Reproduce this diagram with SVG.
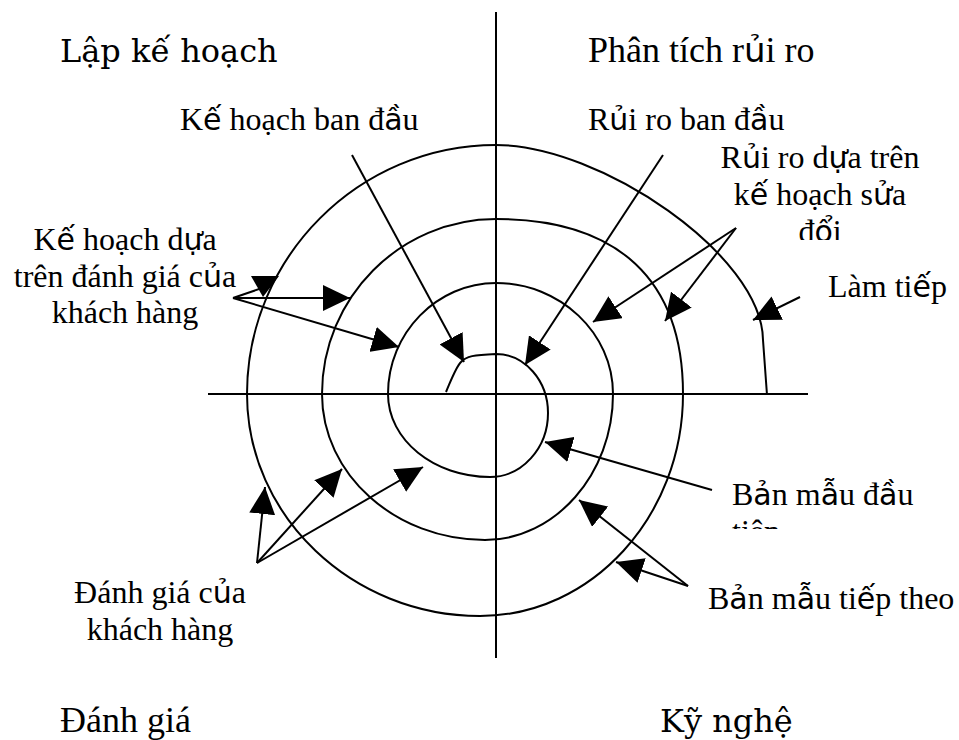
<svg xmlns="http://www.w3.org/2000/svg" width="959" height="740" viewBox="0 0 959 740">
<style>
.ln{stroke:#000;stroke-width:2;fill:none}
.ar{stroke:#000;stroke-width:2;fill:none;marker-end:url(#ah)}
.t{font-family:"Liberation Serif","Times New Roman",serif;font-size:32px;fill:#000}
.big{font-family:"Liberation Serif","Times New Roman",serif;font-size:36px;fill:#000}
.dj{font-family:"DejaVu Serif",serif;font-size:32px;fill:#000}
.s{font-family:"DejaVu Sans",sans-serif;font-size:30px}
.bs{font-family:"DejaVu Sans",sans-serif;font-size:34px}
.m{text-anchor:middle}
</style>
<defs>
<marker id="ah" markerUnits="userSpaceOnUse" viewBox="0 0 27 26" markerWidth="27" markerHeight="26" refX="27" refY="13" orient="auto">
<path d="M0,0 L27,13 L0,26 z" fill="#000"/>
</marker>
<clipPath id="c1"><rect x="700" y="140" width="259" height="100"/></clipPath>
<clipPath id="c2"><rect x="700" y="470" width="259" height="59"/></clipPath>
</defs>
<rect width="959" height="740" fill="#fff"/>
<g id="axes">
<line class="ln" x1="496" y1="12" x2="496" y2="658"/>
<line class="ln" x1="208" y1="394" x2="808" y2="394"/>
</g>
<g id="spiral">
<path class="ln" d="M446,392 C452,378 456,367 461,362 C466,356 474,355 496,354 C525,354 548,381 548,413 C548,448 522,477 490,477 C434,477 388,440 388,394 C388,333 437,283 496,283 C560,283 613,333 613,394 C613,474 555,540 485,540 C395,540 322,474 322,394 C322,298 400,219 496,219 C618,219 683,280 683,394 C683,516 592,616 480,616 C352,616 247,516 247,394 C247,257 359,145 496,145 C600,145 762,255 763,340 L767,395"/>
</g>
<g id="labels">
<text id="lap-ke-hoach" class="dj" x="60" y="62">Lập kế hoạch</text>
<text id="phan-tich" class="big" x="588" y="62">Phân tích r<tspan class="bs">ủ</tspan>i ro</text>
<text id="danh-gia" class="big" x="60" y="732">Đánh giá</text>
<text id="ky-nghe" class="dj" x="660" y="732">Kỹ nghệ</text>
</g>
<g id="connectors">
<line class="ar" x1="352" y1="155" x2="464" y2="362"/>
<line class="ar" x1="663" y1="155" x2="525" y2="365"/>
<line class="ln" x1="233" y1="298" x2="262" y2="288"/>
<polygon points="251,276 279,276 263,297" fill="#000"/>
<line class="ar" x1="233" y1="298" x2="350" y2="298"/>
<line class="ar" x1="233" y1="298" x2="399" y2="347"/>
<line class="ar" x1="736" y1="228" x2="593" y2="322"/>
<line class="ar" x1="736" y1="228" x2="665" y2="321"/>
<line class="ar" x1="800" y1="297" x2="753" y2="320"/>
<line class="ar" x1="712" y1="490" x2="545" y2="442"/>
<line class="ar" x1="688" y1="586" x2="579" y2="500"/>
<line class="ar" x1="688" y1="586" x2="616" y2="562"/>
<line class="ar" x1="257" y1="563" x2="265" y2="487"/>
<line class="ar" x1="257" y1="563" x2="342" y2="469"/>
<line class="ar" x1="257" y1="563" x2="423" y2="467"/>
</g>
<g id="n-ke-hoach-ban-dau"><text class="t" x="180" y="130">K<tspan class="s">ế</tspan> hoạch ban đ<tspan class="s">ầ</tspan>u</text></g>
<g id="n-rui-ro-ban-dau"><text class="t" x="588" y="130">R<tspan class="s">ủ</tspan>i ro ban đ<tspan class="s">ầ</tspan>u</text></g>
<g id="n-rui-ro-dua-tren" clip-path="url(#c1)">
<text class="t m" x="820" y="168">R<tspan class="s">ủ</tspan>i ro d<tspan class="s">ự</tspan>a trên</text>
<text class="t m" x="820" y="205">k<tspan class="s">ế</tspan> hoạch s<tspan class="s">ử</tspan>a</text>
<text class="t m" x="820" y="242">đ<tspan class="s">ổ</tspan>i</text>
</g>
<g id="n-lam-tiep"><text class="t" x="828" y="297">Làm ti<tspan class="s">ế</tspan>p</text></g>
<g id="n-ke-hoach-dua">
<text class="t m" x="125" y="250">K<tspan class="s">ế</tspan> hoạch d<tspan class="s">ự</tspan>a</text>
<text class="t m" x="125" y="287">trên đánh giá c<tspan class="s">ủ</tspan>a</text>
<text class="t m" x="125" y="323">khách hàng</text>
</g>
<g id="n-ban-mau-dau-tien" clip-path="url(#c2)">
<text class="t" x="732" y="505">B<tspan class="s">ả</tspan>n m<tspan class="s">ẫ</tspan>u đ<tspan class="s">ầ</tspan>u</text>
<text class="t" x="732" y="542">tiên</text>
</g>
<g id="n-ban-mau-tiep-theo"><text class="t" x="708" y="609">B<tspan class="s">ả</tspan>n m<tspan class="s">ẫ</tspan>u ti<tspan class="s">ế</tspan>p theo</text></g>
<g id="n-danh-gia-kh">
<text class="t m" x="160" y="603">Đánh giá c<tspan class="s">ủ</tspan>a</text>
<text class="t m" x="160" y="640">khách hàng</text>
</g>
</svg>
